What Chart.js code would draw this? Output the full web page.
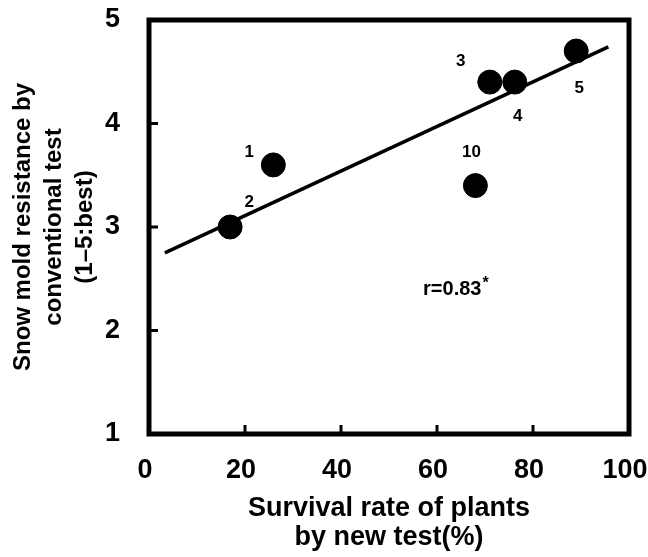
<!DOCTYPE html>
<html>
<head>
<meta charset="utf-8">
<script src="https://cdn.jsdelivr.net/npm/chart.js@4.4.1/dist/chart.umd.min.js"></script>
<style>
  body { margin: 0; background: #fff; }
  #wrap { width: 648px; height: 557px; }
</style>
</head>
<body>
<div id="wrap"><canvas id="myChart" width="648" height="557"></canvas></div>
<script>
const pointLabels = ['1', '2', '3', '4', '5', '10']
const survivalRate = [25.9, 16.9, 71.0, 76.2, 89.0, 68.0]
const moldResistance = [3.6, 3.0, 4.4, 4.4, 4.7, 3.4]
const fitX = [3.3, 95.7]
const fitY = [2.75, 4.74]
const xTicks = [0, 20, 40, 60, 80, 100]
const yTicks = [1, 2, 3, 4, 5]
const rText = 'r=0.83'

const fontFam = '"Liberation Sans", Arial, sans-serif'

// pixel offsets of the little numbers next to each dot
const labelOffsets = [[-24, -13], [19, -25], [-29, -21], [3, 34], [3, 37], [-4, -33]]

const boxPlugin = {
  id: 'box',
  afterDraw(chart) {
    const {ctx, chartArea: a, scales} = chart
    ctx.save()
    ctx.strokeStyle = '#000'
    ctx.lineWidth = 5
    ctx.strokeRect(a.left, a.top, a.right - a.left, a.bottom - a.top)

    // inward tick marks
    ctx.lineWidth = 3
    xTicks.slice(1, -1).forEach(v => {
      const x = scales.x.getPixelForValue(v)
      ctx.beginPath(); ctx.moveTo(x, a.bottom); ctx.lineTo(x, a.bottom - 9); ctx.stroke()
    })
    yTicks.slice(1, -1).forEach(v => {
      const y = scales.y.getPixelForValue(v)
      ctx.beginPath(); ctx.moveTo(a.left, y); ctx.lineTo(a.left + 9, y); ctx.stroke()
    })

    // point numbers
    ctx.fillStyle = '#000'
    ctx.font = 'bold 17px ' + fontFam
    ctx.textAlign = 'center'
    ctx.textBaseline = 'middle'
    pointLabels.forEach((t, i) => {
      const x = scales.x.getPixelForValue(survivalRate[i]) + labelOffsets[i][0]
      const y = scales.y.getPixelForValue(moldResistance[i]) + labelOffsets[i][1]
      ctx.fillText(t, x, y)
    })

    // correlation text
    ctx.font = 'bold 20px ' + fontFam
    ctx.textAlign = 'left'
    const rx = scales.x.getPixelForValue(57.1)
    const ry = scales.y.getPixelForValue(2.40)
    ctx.fillText(rText, rx, ry)
    const w = ctx.measureText(rText).width
    ctx.font = 'bold 16px ' + fontFam
    ctx.fillText('*', rx + w + 1, ry - 6)
    ctx.restore()
  }
}

new Chart('myChart', {
  type: 'scatter',
  data: {
    datasets: [{
      data: survivalRate.map((x, i) => ({x: x, y: moldResistance[i]})),
      backgroundColor: '#000',
      borderColor: '#000',
      pointRadius: 12,
      pointHoverRadius: 12
    }, {
      data: fitX.map((x, i) => ({x: x, y: fitY[i]})),
      showLine: true,
      borderColor: '#000',
      borderWidth: 3.5,
      pointRadius: 0
    }]
  },
  options: {
    responsive: false,
    animation: false,
    layout: {padding: {top: 20, right: 19, bottom: 0, left: 0}},
    plugins: {
      legend: {display: false},
      tooltip: {enabled: false}
    },
    scales: {
      x: {
        type: 'linear',
        min: 0, max: 100,
        afterBuildTicks: s => { s.ticks = xTicks.map(v => ({value: v})) },
        afterFit: s => { s.height = 123; s.paddingLeft = 0; s.paddingRight = 0 },
        grid: {display: false, drawTicks: false},
        border: {display: false},
        ticks: {
          padding: 20,
          labelOffset: -4,
          color: '#000',
          font: {family: fontFam, size: 27, weight: 'bold'},
          maxRotation: 0
        },
        title: {
          display: true,
          text: ['Survival rate of plants', 'by new test(%)'],
          color: '#000',
          font: {family: fontFam, size: 27, weight: 'bold', lineHeight: 1.07},
          padding: {top: 0, bottom: 5}
        }
      },
      y: {
        type: 'linear',
        min: 1, max: 5,
        afterBuildTicks: s => { s.ticks = yTicks.map(v => ({value: v})) },
        afterFit: s => { s.width = 149; s.paddingTop = 0; s.paddingBottom = 0 },
        grid: {display: false, drawTicks: false},
        border: {display: false},
        ticks: {
          padding: 29,
          color: '#000',
          font: {family: fontFam, size: 27, weight: 'bold'}
        },
        title: {
          display: true,
          text: ['Snow mold resistance by', 'conventional test', '(1\u20135:best)'],
          color: '#000',
          font: {family: fontFam, size: 24, weight: 'bold', lineHeight: 1.29},
          padding: {top: 8, bottom: 0}
        }
      }
    }
  },
  plugins: [boxPlugin]
})
</script>
</body>
</html>
